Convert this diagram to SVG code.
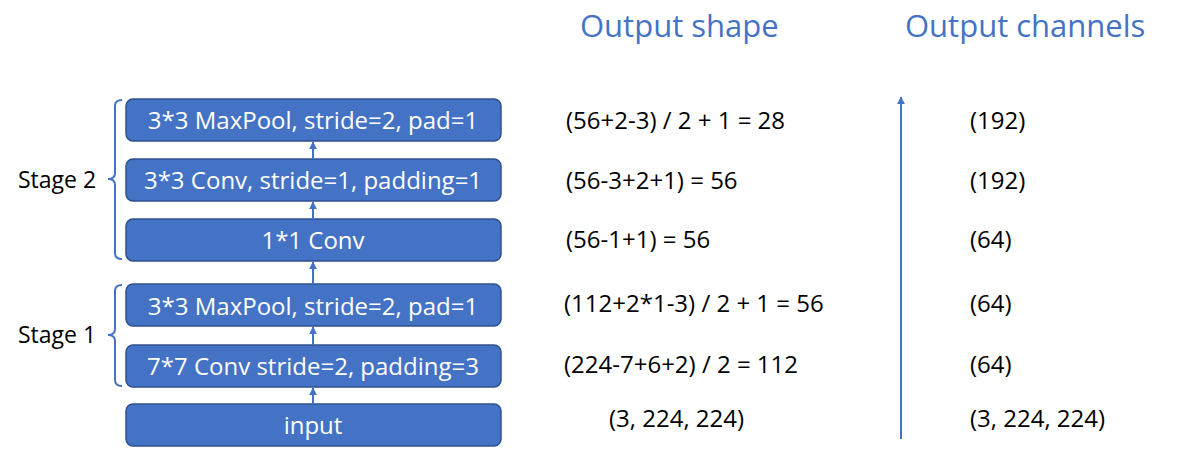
<svg xmlns="http://www.w3.org/2000/svg" width="1191" height="456" viewBox="0 0 1191 456">
<style>
.box{fill:#4472C4;stroke:#2F528F;stroke-width:1.5}
.bt{font-family:"Open Sans","Liberation Sans",sans-serif;font-size:24px;fill:#fff;text-anchor:middle}
.t{font-family:"Open Sans","Liberation Sans",sans-serif;font-size:24px;fill:#000}
.s{font-family:"Open Sans","Liberation Sans",sans-serif;font-size:23px;fill:#000}
.h{font-family:"Open Sans","Liberation Sans",sans-serif;font-size:31px;fill:#4472C4}
.ln{stroke:#4472C4;stroke-width:2;fill:none}
</style>
<defs>
<marker id="ah" viewBox="0 0 10 10" refX="9" refY="5" markerWidth="4" markerHeight="4" orient="auto">
<path d="M0,0 L10,5 L0,10 z" fill="#4472C4"/>
</marker>
</defs>
<rect width="1191" height="456" fill="#fff"/>
<g id="n_pool2"><rect class="box" x="126" y="99" width="375" height="42" rx="7"/><text class="bt" x="313" y="129">3*3 MaxPool, stride=2, pad=1</text></g>
<g id="n_conv3"><rect class="box" x="126" y="159" width="375" height="42" rx="7"/><text class="bt" x="313" y="189">3*3 Conv, stride=1, padding=1</text></g>
<g id="n_conv1"><rect class="box" x="126" y="219" width="375" height="42" rx="7"/><text class="bt" x="313" y="249">1*1 Conv</text></g>
<g id="n_pool1"><rect class="box" x="126" y="284" width="375" height="42" rx="7"/><text class="bt" x="313" y="315">3*3 MaxPool, stride=2, pad=1</text></g>
<g id="n_conv7"><rect class="box" x="126" y="345" width="375" height="42" rx="7"/><text class="bt" x="313" y="375">7*7 Conv stride=2, padding=3</text></g>
<g id="n_input"><rect class="box" x="126" y="404" width="375" height="42" rx="7"/><text class="bt" x="313" y="434">input</text></g>
<g id="connectors">
<line class="ln" x1="313" y1="404" x2="313" y2="388" marker-end="url(#ah)"/>
<line class="ln" x1="313" y1="345" x2="313" y2="327" marker-end="url(#ah)"/>
<line class="ln" x1="313" y1="284" x2="313" y2="262" marker-end="url(#ah)"/>
<line class="ln" x1="313" y1="219" x2="313" y2="202" marker-end="url(#ah)"/>
<line class="ln" x1="313" y1="159" x2="313" y2="142" marker-end="url(#ah)"/>
<line class="ln" x1="901" y1="439" x2="901" y2="97" marker-end="url(#ah)"/>
</g>
<g id="brackets">
<path class="ln" d="M122,100 Q115,100 115,106 L115,173 Q115,179 108,179 Q115,179 115,185 L115,253 Q115,259 122,259"/>
<path class="ln" d="M122,285 Q115,285 115,291 L115,329 Q115,335 108,335 Q115,335 115,341 L115,380 Q115,386 122,386"/>
</g>
<text class="s" x="18" y="188">Stage 2</text>
<text class="s" x="18" y="343">Stage 1</text>
<text class="h" x="580" y="37">Output shape</text>
<text class="h" x="905" y="37">Output channels</text>
<text class="t" x="566" y="129">(56+2-3) / 2 + 1 = 28</text>
<text class="t" x="566" y="189">(56-3+2+1) = 56</text>
<text class="t" x="566" y="248">(56-1+1) = 56</text>
<text class="t" x="564" y="312">(112+2*1-3) / 2 + 1 = 56</text>
<text class="t" x="564" y="373">(224-7+6+2) / 2 = 112</text>
<text class="t" x="609" y="427">(3, 224, 224)</text>
<text class="t" x="970" y="129">(192)</text>
<text class="t" x="970" y="189">(192)</text>
<text class="t" x="970" y="248">(64)</text>
<text class="t" x="970" y="312">(64)</text>
<text class="t" x="970" y="373">(64)</text>
<text class="t" x="970" y="427">(3, 224, 224)</text>
</svg>
